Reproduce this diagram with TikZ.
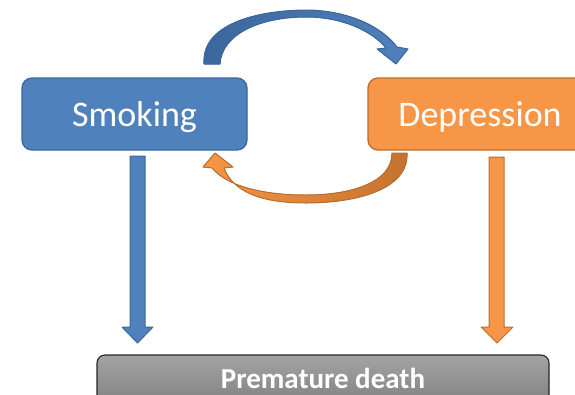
\documentclass[tikz,border=0pt]{standalone}
\usepackage{fontspec}
\setmainfont{Carlito}
\definecolor{bfill}{HTML}{4F81BD}
\definecolor{bline}{HTML}{3A679C}
\definecolor{bdark}{HTML}{3B669C}
\definecolor{ofill}{HTML}{F79646}
\definecolor{oline}{HTML}{B86D2E}
\definecolor{odark}{HTML}{C4722E}
\definecolor{gtop}{HTML}{A3A3A3}
\definecolor{gbot}{HTML}{7E7E7E}
\begin{document}
\begin{tikzpicture}[x=1pt,y=-1pt,
  boxstyle/.style={rounded corners=10pt, line width=1.3pt},
  lbl/.style={text=white, font=\fontsize{36}{40}\selectfont},
  blockarrow/.style={line width=1pt, line join=round}]
\useasboundingbox (0,0) rectangle (575,394);
\clip (0,0) rectangle (575,394);
% boxes
\draw[boxstyle, fill=bfill, draw=bline] (22,78) rectangle (247,150);
\node[lbl] (smoking) at (134.5,117) {Smoking};
\draw[boxstyle, fill=ofill, draw=oline] (368,78) rectangle (600,150);
\node[lbl] (depression) at (480,117) {Depression};
\draw[rounded corners=8pt, line width=1.1pt, draw=black!85, top color=gtop, bottom color=gbot]
  (97,355) rectangle (549,410);
\node[text=white, inner sep=0pt, anchor=base, font=\bfseries\fontsize{29}{32}\selectfont] (death) at (323,388) {Premature death};
% vertical arrows
\filldraw[blockarrow, fill=bfill, draw=bline]
  (130,156) -- (145,156) -- (145,327) -- (153,327) -- (137.5,343) -- (122,327) -- (130,327) -- cycle;
\filldraw[blockarrow, fill=ofill, draw=oline]
  (489,157) -- (504,157) -- (504,327) -- (513,327) -- (497,343) -- (481,327) -- (489,327) -- cycle;
% top curved arrow
\filldraw[blockarrow, left color=bdark, right color=bfill, draw=bline]
  (204,64) .. controls (201,25) and (255,10) .. (308,10)
  .. controls (350,11) and (382,27) .. (397,47)
  -- (408,49) -- (396,64) -- (377,49) -- (386,48)
  .. controls (372,31) and (342,17) .. (306,17)
  .. controls (262,17) and (222,33) .. (220,64) -- cycle;
% bottom curved arrow
\filldraw[blockarrow, left color=ofill, right color=odark, draw=oline]
  (407,153) .. controls (409,190) and (355,203) .. (306,203)
  .. controls (262,203) and (233,192) .. (224,168)
  -- (233,167) -- (215,153) -- (203,167) -- (212,168)
  .. controls (228,187) and (265,195) .. (306,195)
  .. controls (350,195) and (392,183) .. (392,153) -- cycle;
\end{tikzpicture}
\end{document}
